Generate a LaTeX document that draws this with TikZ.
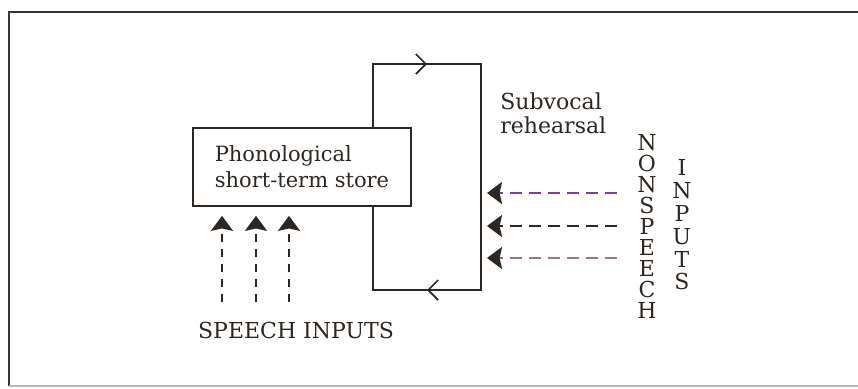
\documentclass[tikz,border=0pt]{standalone}
\usepackage{fontspec}
\setmainfont{DejaVu Serif}
\usepackage{xcolor}
\usepackage{tikz}
\usetikzlibrary{arrows.meta, positioning, calc, decorations.markings}
\definecolor{inkbrown}{RGB}{45,38,33}
\definecolor{nspurple}{RGB}{125,62,150}
\definecolor{nsmauve}{RGB}{150,118,135}
\definecolor{framegray}{RGB}{55,55,55}
\tikzset{
  store/.style={draw=inkbrown, line width=0.85pt, align=left, minimum width=109pt, minimum height=39pt, inner sep=0pt, text=inkbrown, font=\fontsize{10.5}{13}\selectfont},
  loopline/.style={draw=inkbrown, line width=0.85pt},
  midchevron/.style={postaction={decorate}, decoration={markings, mark=at position 0.5 with {\arrow{Straight Barb[length=5pt,width=10pt,line width=0.85pt]}}}},
  speech/.style={-{Stealth[length=7.5pt,width=11pt,inset=1.2pt]}, line width=1.2pt, inkbrown, dash pattern=on 4pt off 3.5pt},
  nonspeech/.style={-{Stealth[length=7.5pt,width=11pt,inset=1.2pt,color=inkbrown]}, line width=1.2pt, dash pattern=on 6pt off 3.5pt},
  note/.style={inner sep=0pt, text=inkbrown},
  every node/.style={font=\fontsize{11}{12}\selectfont}
}

\begin{document}
\begin{tikzpicture}[x=0.5pt, y=-0.5pt]
    \useasboundingbox (0,0) rectangle (858,388);
    % frame
    \draw[framegray, line width=1pt] (9,386) -- (9,12) -- (858,12);
    \draw[framegray!35, line width=0.8pt] (9,386) -- (858,386);

    \node[store] (store) at (302,167) {Phonological\\short-term store};

    % rehearsal loop
    \coordinate (loopTL) at (373,64);
    \coordinate (loopTR) at (481,64);
    \coordinate (loopBR) at (481,290);
    \coordinate (loopBL) at (373,290);
    \draw[loopline] (store.north -| loopTL) -- (loopTL) -- (loopTR) -- (loopBR) -- (loopBL) -- (store.south -| loopBL);
    \draw[loopline, midchevron] (loopTL) -- (loopTR);
    \draw[loopline, midchevron] (loopBR) -- (loopBL);
    \node[note, anchor=west, align=left] (rehearsal) at (500,113) {Subvocal\\rehearsal};

    % speech inputs
    \node[note] (speechlbl) at (296,330) {SPEECH INPUTS};
    \foreach \x [count=\i] in {222,256,289} {
        \coordinate (sp\i) at (\x,302);
        \draw[speech, shorten >=4.5pt] (sp\i) -- (sp\i |- store.south);
    }

    % nonspeech inputs
    \foreach \y/\c [count=\i] in {193/nspurple, 226/inkbrown, 258/nsmauve} {
        \coordinate (ns\i) at (617,\y);
        \draw[nonspeech, \c, shorten >=3pt] (ns\i) -- (ns\i -| loopTR);
    }
    \node[note, align=center, font=\fontsize{11}{10.5}\selectfont] (nonspeech) at (647,226) {N\\O\\N\\S\\P\\E\\E\\C\\H};
    \node[note, align=center, font=\fontsize{11}{11.4}\selectfont] (inputs) at (682,225) {I\\N\\P\\U\\T\\S};
\end{tikzpicture}
\end{document}
